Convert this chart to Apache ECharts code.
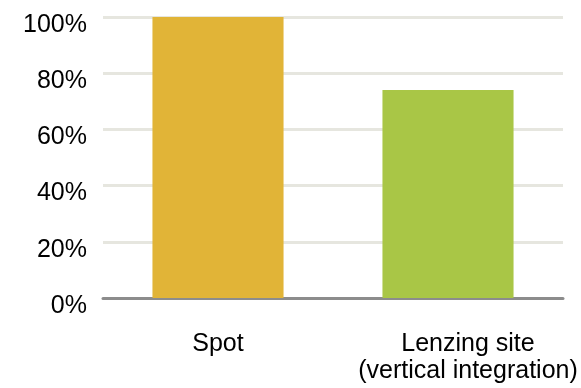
<!DOCTYPE html>
<html>
<head>
<meta charset="utf-8">
<script src="https://cdn.jsdelivr.net/npm/echarts@6/dist/echarts.min.js"></script>
<style>
  html, body { margin: 0; padding: 0; background: #fff; }
  #chart { width: 581px; height: 388px; }
</style>
</head>
<body>
<div id="chart"></div>
<script>
// Cost comparison: spot purchase vs. integrated site
const categories = ['Spot', 'Lenzing site\n(vertical integration)'];
const values = [100, 74];
const barColors = ['#E1B437', '#A9C646'];
const yTicks = [0, 20, 40, 60, 80, 100];

const labelFont = 'Liberation Sans, Arial, sans-serif';

const chart = echarts.init(document.getElementById('chart'), null, { renderer: 'canvas' });
chart.setOption({
  backgroundColor: '#ffffff',
  animation: false,
  grid: { left: 103, right: 18, top: 17, bottom: 90 },
  xAxis: {
    type: 'category',
    data: categories.map((c, i) => ({
      value: c,
      // the long two-line label sits a little right of its bar
      textStyle: i === 1 ? { padding: [0, 0, 0, 40] } : {}
    })),
    axisLine: { lineStyle: { color: '#8C8C8C', width: 3 } },
    axisTick: { show: false },
    axisLabel: {
      color: '#000',
      fontFamily: labelFont,
      fontSize: 25,
      lineHeight: 27,
      margin: 33,
      interval: 0
    }
  },
  yAxis: {
    type: 'value',
    min: yTicks[0],
    max: yTicks[yTicks.length - 1],
    interval: 20,
    axisLine: { show: false },
    axisTick: { show: false },
    splitLine: { lineStyle: { color: '#E6E6DF', width: 3 } },
    axisLabel: {
      color: '#000',
      fontFamily: labelFont,
      fontSize: 25,
      margin: 16,
      formatter: v => '{t|' + v + '%}',
      rich: {
        t: { fontFamily: labelFont, fontSize: 25, color: '#000', padding: [16, 0, 0, 0] }
      }
    }
  },
  series: [{
    type: 'bar',
    barWidth: '57%',
    data: values.map((v, i) => ({ value: v, itemStyle: { color: barColors[i] } }))
  }]
});
</script>
</body>
</html>
